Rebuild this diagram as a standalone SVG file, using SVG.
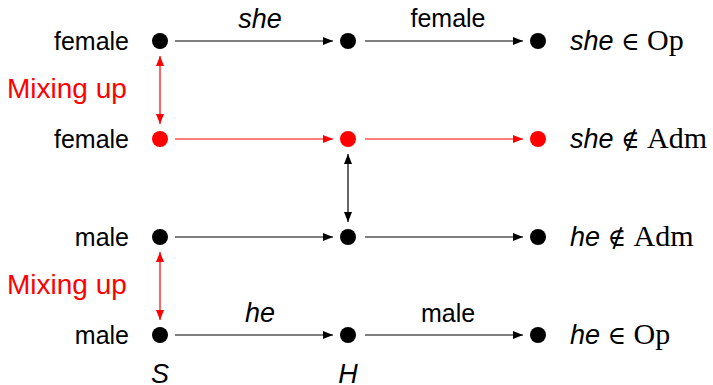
<svg xmlns="http://www.w3.org/2000/svg" width="713" height="385" viewBox="0 0 713 385">
<defs>
<marker id="ab" viewBox="0 0 10 8" refX="10" refY="4" markerWidth="10" markerHeight="8" markerUnits="userSpaceOnUse" orient="auto-start-reverse"><path d="M0,0 L10,4 L0,8 z" fill="#000"/></marker>
<marker id="ar" viewBox="0 0 10 8" refX="10" refY="4" markerWidth="10" markerHeight="8" markerUnits="userSpaceOnUse" orient="auto-start-reverse"><path d="M0,0 L10,4 L0,8 z" fill="#f00"/></marker>
</defs>
<style>
.s{font-family:"Liberation Sans",Arial,sans-serif;font-size:25px}
.e{font-size:27px}
.i{font-style:italic}
.r{font-family:"Liberation Serif","DejaVu Serif",serif;font-size:30px;font-style:normal}
.m{font-family:"DejaVu Serif",serif;font-size:25px;font-style:normal}
.k{fill:#000}
.red{fill:#f00}
.lk{stroke:#000;stroke-width:1.2;fill:none}
.lr{stroke:#f00;stroke-width:1.2;fill:none}
</style>
<g id="connectors">
<line class="lk" x1="175" y1="41" x2="333" y2="41" marker-end="url(#ab)"/>
<line class="lk" x1="365" y1="41" x2="523" y2="41" marker-end="url(#ab)"/>
<line class="lr" x1="175" y1="139" x2="333" y2="139" marker-end="url(#ar)"/>
<line class="lr" x1="365" y1="139" x2="523" y2="139" marker-end="url(#ar)"/>
<line class="lk" x1="175" y1="237" x2="333" y2="237" marker-end="url(#ab)"/>
<line class="lk" x1="365" y1="237" x2="523" y2="237" marker-end="url(#ab)"/>
<line class="lk" x1="175" y1="335" x2="333" y2="335" marker-end="url(#ab)"/>
<line class="lk" x1="365" y1="335" x2="523" y2="335" marker-end="url(#ab)"/>
<line class="lr" x1="160" y1="56" x2="160" y2="124" marker-start="url(#ar)" marker-end="url(#ar)"/>
<line class="lr" x1="160" y1="252" x2="160" y2="320" marker-start="url(#ar)" marker-end="url(#ar)"/>
<line class="lk" x1="348" y1="154" x2="348" y2="222" marker-start="url(#ab)" marker-end="url(#ab)"/>
<text class="s i e" x="260" y="28" text-anchor="middle">she</text>
<text class="s" x="448" y="27" text-anchor="middle">female</text>
<text class="s i e" x="260" y="322" text-anchor="middle">he</text>
<text class="s" x="448" y="322" text-anchor="middle">male</text>
</g>
<g id="n-s1"><circle cx="160" cy="41" r="8" class="k"/><text class="s" x="129" y="50" text-anchor="end">female</text></g>
<g id="n-h1"><circle cx="348" cy="41" r="8" class="k"/></g>
<g id="n-e1"><circle cx="538" cy="41" r="8" class="k"/><text class="s i e" x="570" y="50">she <tspan class="m">∈</tspan> <tspan class="r">Op</tspan></text></g>
<g id="n-s2"><circle cx="160" cy="139" r="8" class="red"/><text class="s" x="129" y="148" text-anchor="end">female</text></g>
<g id="n-h2"><circle cx="348" cy="139" r="8" class="red"/></g>
<g id="n-e2"><circle cx="538" cy="139" r="8" class="red"/><text class="s i e" x="570" y="148">she <tspan class="m">∉</tspan> <tspan class="r">Adm</tspan></text></g>
<g id="n-s3"><circle cx="160" cy="237" r="8" class="k"/><text class="s" x="129" y="246" text-anchor="end">male</text></g>
<g id="n-h3"><circle cx="348" cy="237" r="8" class="k"/></g>
<g id="n-e3"><circle cx="538" cy="237" r="8" class="k"/><text class="s i e" x="570" y="246">he <tspan class="m">∉</tspan> <tspan class="r">Adm</tspan></text></g>
<g id="n-s4"><circle cx="160" cy="335" r="8" class="k"/><text class="s" x="129" y="344" text-anchor="end">male</text></g>
<g id="n-h4"><circle cx="348" cy="335" r="8" class="k"/></g>
<g id="n-e4"><circle cx="538" cy="335" r="8" class="k"/><text class="s i e" x="570" y="344">he <tspan class="m">∈</tspan> <tspan class="r">Op</tspan></text></g>
<g id="labels">
<text class="s red" x="7" y="98" style="font-size:28px">Mixing up</text>
<text class="s red" x="7" y="294" style="font-size:28px">Mixing up</text>
<text class="s i" x="160" y="383" text-anchor="middle" style="font-size:27px">S</text>
<text class="s i" x="348" y="383" text-anchor="middle" style="font-size:27px">H</text>
</g>
</svg>
